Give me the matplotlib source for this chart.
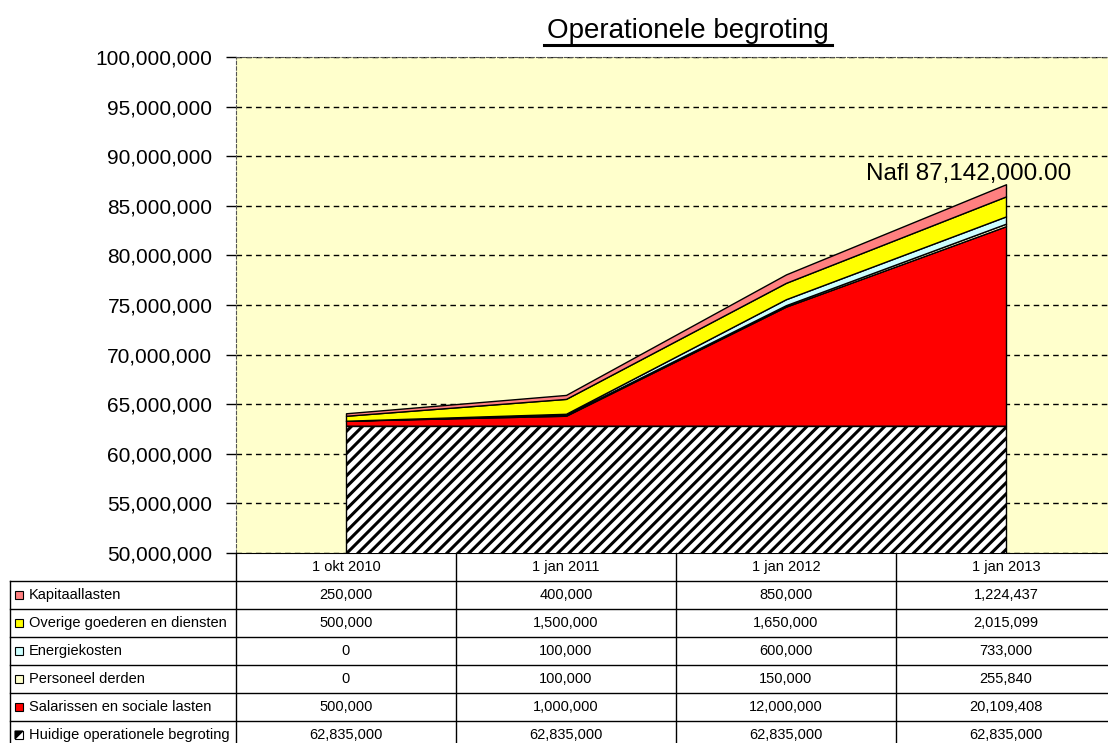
import matplotlib.pyplot as plt
from matplotlib.patches import Rectangle, Polygon
import numpy as np

plt.rcParams['font.family'] = ['Liberation Sans', 'DejaVu Sans']
plt.rcParams['hatch.linewidth'] = 2.2

categories = ['1 okt 2010', '1 jan 2011', '1 jan 2012', '1 jan 2013']
huidige = [62835000, 62835000, 62835000, 62835000]
salarissen = [500000, 1000000, 12000000, 20109408]
personeel = [0, 100000, 150000, 255840]
energie = [0, 100000, 600000, 733000]
overige = [500000, 1500000, 1650000, 2015099]
kapitaal = [250000, 400000, 850000, 1224437]

# bottom to top of the stack
series_names = ['Huidige operationele begroting', 'Salarissen en sociale lasten',
                'Personeel derden', 'Energiekosten',
                'Overige goederen en diensten', 'Kapitaallasten']
series_values = [huidige, salarissen, personeel, energie, overige, kapitaal]
series_colors = ['white', '#FF0000', '#FFFFCC', '#CCFFFF', '#FFFF00', '#FF8080']
series_hatch = ['///', None, None, None, None, None]

title = 'Operationele begroting'
total_label = 'Nafl 87,142,000.00'

W, H = 1108, 743
fig = plt.figure(figsize=(W / 100, H / 100), dpi=100)
fig.patch.set_facecolor('white')

ax = fig.add_axes([236 / W, (H - 553) / H, 880 / W, 496 / H])
ax.set_facecolor('#FFFFCC')

x = np.arange(len(categories))
lower = np.full(len(categories), 0.0)
for name, vals, col, hat in zip(series_names, series_values, series_colors, series_hatch):
    upper = lower + np.array(vals, dtype=float)
    ax.fill_between(x, lower, upper, facecolor=col, edgecolor='black',
                    linewidth=1.0, hatch=hat, zorder=3)
    lower = upper

ax.set_xlim(-0.5, len(categories) - 0.5)
ax.set_ylim(50000000, 100000000)
ax.set_yticks(np.arange(50000000, 100000001, 5000000))
ax.set_yticklabels([f'{v:,}' for v in ax.get_yticks().astype(int)], fontsize=15)
ax.tick_params(axis='y', direction='out', length=7, width=1, pad=10)
ax.set_xticks([])
ax.yaxis.grid(True, color='black', linestyle=(0, (4, 3)), linewidth=1, zorder=1)
ax.set_axisbelow(True)
ax.spines['left'].set_linestyle((0, (3, 2)))
ax.spines['left'].set_color('#555555')
ax.spines['top'].set_linestyle((0, (3, 2)))
ax.spines['top'].set_color('#555555')
ax.spines['right'].set_visible(False)
ax.spines['bottom'].set_color('black')

ax.text(2.83, 88200000, total_label, fontsize=17.5, ha='center', va='center', zorder=4)

# title with underline
fig.text(688 / W, 1 - 31 / H, title, fontsize=20, ha='center', va='center')
fig.add_artist(plt.Line2D([544 / W, 832 / W], [1 - 45 / H, 1 - 45 / H],
                          color='black', linewidth=2.2))

# data table under the chart, drawn in pixel coordinates
tb = fig.add_axes([0, 0, 1, 1], zorder=5)
tb.set_xlim(0, W)
tb.set_ylim(H, 0)
tb.axis('off')

col_centers = [ax.transData.transform((i, 0))[0] for i in x]
col_edges = [ax.transData.transform((i - 0.5, 0))[0] for i in range(len(categories) + 1)]
top_row = 553
row_h = 28
n_rows = len(series_names)
bottom = top_row + row_h * (n_rows + 1)

for cx, cat in zip(col_centers, categories):
    tb.text(cx, top_row + row_h / 2, cat, fontsize=10.5, ha='center', va='center')

for e in col_edges:
    tb.plot([e, e], [top_row, bottom], color='black', linewidth=1)
tb.plot([10, 10], [top_row + row_h, bottom], color='black', linewidth=1)
for r in range(1, n_rows + 2):
    y = top_row + r * row_h
    tb.plot([10, W + 20], [y, y], color='black', linewidth=1)

rows = list(zip(series_names, series_values, series_colors, series_hatch))[::-1]
for r, (name, vals, col, hat) in enumerate(rows):
    yc = top_row + row_h * (r + 1) + row_h / 2
    tb.add_patch(Rectangle((15, yc - 4), 8, 8, facecolor=col, edgecolor='black',
                           linewidth=0.8))
    if hat:
        tb.add_patch(Polygon([(15, yc - 4), (23, yc - 4), (15, yc + 4)],
                             closed=True, facecolor='black', edgecolor='black',
                             linewidth=0.8))
    tb.text(29, yc, name, fontsize=10.5, ha='left', va='center')
    for cx, v in zip(col_centers, vals):
        tb.text(cx, yc, f'{v:,}', fontsize=10.5, ha='center', va='center')

fig.savefig('out.png', dpi=100)
